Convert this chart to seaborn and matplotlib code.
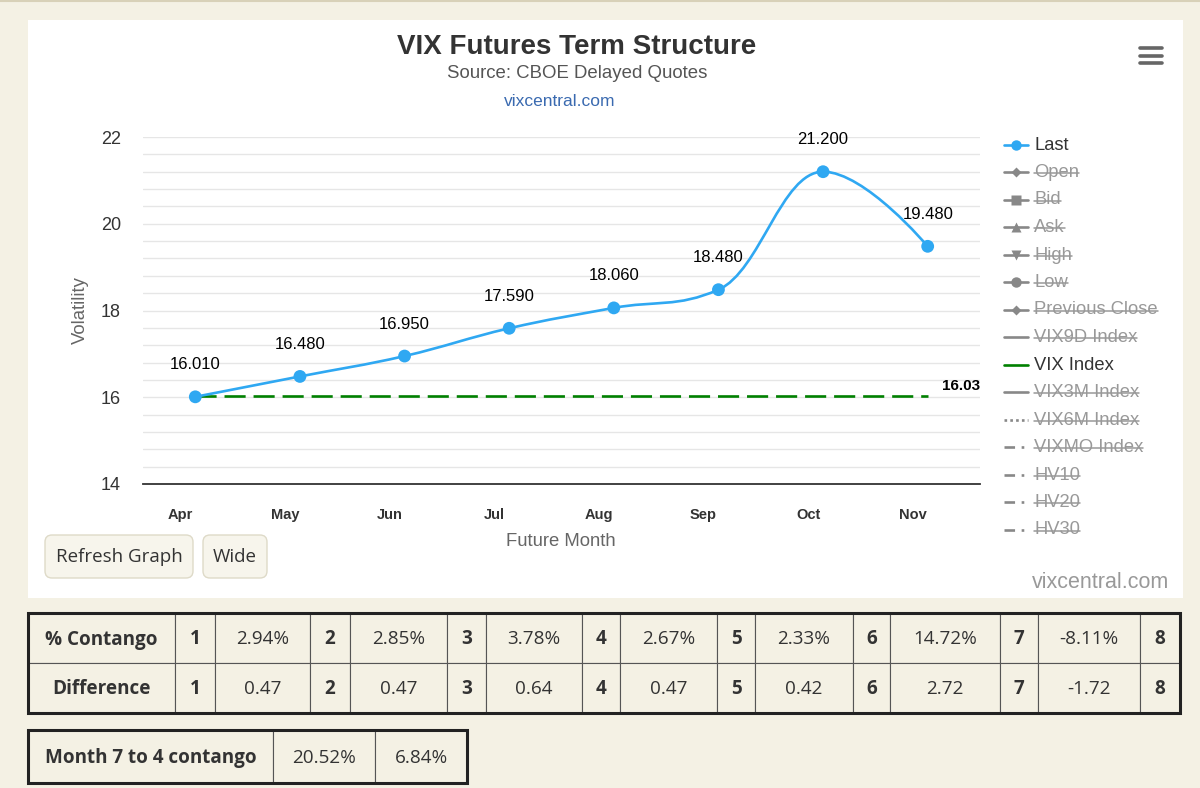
import numpy as np
import matplotlib
matplotlib.use("Agg")
import matplotlib.pyplot as plt
import seaborn as sns
import pandas as pd
from matplotlib.path import Path
from matplotlib.patches import PathPatch, Rectangle, FancyBboxPatch
from matplotlib.lines import Line2D
from matplotlib.transforms import Affine2D, ScaledTranslation

# ---------------- data ----------------
months = ['Apr', 'May', 'Jun', 'Jul', 'Aug', 'Sep', 'Oct', 'Nov']
last_prices = [16.010, 16.480, 16.950, 17.590, 18.060, 18.480, 21.200, 19.480]
vix_index = 16.03
y_ticks = [14, 16, 18, 20, 22]

legend_labels = ['Last', 'Open', 'Bid', 'Ask', 'High', 'Low', 'Previous Close',
                 'VIX9D Index', 'VIX Index', 'VIX3M Index', 'VIX6M Index',
                 'VIXMO Index', 'HV10', 'HV20', 'HV30']
legend_active = ['Last', 'VIX Index']

contango_months = ['1', '2', '3', '4', '5', '6', '7', '8']
contango_pct = ['2.94%', '2.85%', '3.78%', '2.67%', '2.33%', '14.72%', '-8.11%']
differences = ['0.47', '0.47', '0.64', '0.47', '0.42', '2.72', '-1.72']
month7to4 = ['20.52%', '6.84%']

# ---------------- setup ----------------
W, H = 1200, 788
sns.set_theme(style='white')
plt.rcParams['font.family'] = ['Liberation Sans', 'DejaVu Sans']

BG = '#f4f1e4'
BLUE = '#2fa8f2'
GREEN = '#008000'
fig = plt.figure(figsize=(W / 100, H / 100), dpi=100)
fig.patch.set_facecolor(BG)
PX = Affine2D().scale(1 / W, -1 / H).translate(0, 1) + fig.transFigure

# page top border
fig.add_artist(Line2D([0, W], [1, 1], transform=PX, color='#d8d1b8', lw=1.5, zorder=-6))
# white chart panel
fig.add_artist(Rectangle((28, 20), 1155, 578, transform=PX, facecolor='white',
                         edgecolor='none', zorder=-5))

# ---------------- axes ----------------
ax_left, ax_right, ax_top, ax_bottom = 143, 980, 137, 484
ax = fig.add_axes([ax_left / W, 1 - ax_bottom / H, (ax_right - ax_left) / W,
                   (ax_bottom - ax_top) / H])
ax.set_facecolor('white')
x_idx = np.arange(len(months))
ax.set_xlim(-0.5, len(months) - 0.5)
ax.set_ylim(min(y_ticks), max(y_ticks))
ax.set_yticks(y_ticks)
ax.set_yticks(np.arange(14, 22.01, 0.4), minor=True)
ax.grid(True, which='both', axis='y', color='#e6e6e6', lw=1.0)
ax.grid(False, axis='x')
for s in ['top', 'right', 'left']:
    ax.spines[s].set_visible(False)
ax.spines['bottom'].set_color('#333333')
ax.spines['bottom'].set_linewidth(1.3)
ax.set_xticks(x_idx)
ax.set_xticklabels(months, fontweight='bold', fontsize=10.5, color='#333333')
ax.tick_params(axis='x', length=0, pad=17)
ax.tick_params(axis='y', which='both', length=0, pad=16, labelsize=13, labelcolor='#333333')
for lab in ax.get_xticklabels():
    lab.set_transform(lab.get_transform() + ScaledTranslation(-15 / 100, 0, fig.dpi_scale_trans))
ax.set_xlabel('')
ax.set_ylabel('')


# Highcharts-style spline through the points
def hc_spline(xs, ys, smoothing=1.5):
    n = len(xs)
    verts = [(xs[0], ys[0])]
    codes = [Path.MOVETO]
    rc = [None] * n
    d = smoothing + 1
    for i in range(1, n):
        x, y = xs[i], ys[i]
        lc = (x, y)
        if i < n - 1:
            lx, ly = xs[i - 1], ys[i - 1]
            nx, ny = xs[i + 1], ys[i + 1]
            lcx = (smoothing * x + lx) / d
            lcy = (smoothing * y + ly) / d
            rcx = (smoothing * x + nx) / d
            rcy = (smoothing * y + ny) / d
            corr = (rcy - lcy) * (rcx - x) / (rcx - lcx) + y - rcy
            lcy += corr
            rcy += corr
            if lcy > ly and lcy > y:
                lcy = max(ly, y); rcy = 2 * y - lcy
            elif lcy < ly and lcy < y:
                lcy = min(ly, y); rcy = 2 * y - lcy
            if rcy > ny and rcy > y:
                rcy = max(ny, y); lcy = 2 * y - rcy
            elif rcy < ny and rcy < y:
                rcy = min(ny, y); lcy = 2 * y - rcy
            lc = (lcx, lcy)
            rc[i] = (rcx, rcy)
        prev = rc[i - 1] if rc[i - 1] is not None else (xs[i - 1], ys[i - 1])
        verts += [prev, lc, (x, y)]
        codes += [Path.CURVE4] * 3
    return Path(verts, codes)


ax.add_patch(PathPatch(hc_spline(list(x_idx.astype(float)), last_prices),
                       facecolor='none', edgecolor=BLUE, lw=1.9, zorder=3,
                       capstyle='round', joinstyle='round'))

# VIX index dashed line
ax.plot([x_idx[0], x_idx[-1]], [vix_index, vix_index], color=GREEN, lw=1.9,
        dashes=(8, 3), zorder=2)
ax.annotate(f'{vix_index:.2f}', (x_idx[-1], vix_index), xytext=(24, 7),
            textcoords='offset points', ha='center', va='center',
            fontsize=11, fontweight='bold', color='#000000')

df = pd.DataFrame({'x': x_idx, 'last': last_prices})
sns.scatterplot(data=df, x='x', y='last', ax=ax, s=85, color=BLUE,
                edgecolor='none', zorder=4, legend=False)
ax.set_xlabel('')
ax.set_ylabel('')
for xi, v in zip(x_idx, last_prices):
    ax.annotate(f'{v:.3f}', (xi, v), xytext=(0, 23), textcoords='offset points',
                ha='center', va='center', fontsize=12, color='#000000')

# ---------------- titles ----------------
fig.text(577 / W, 1 - 47 / H, 'VIX Futures Term Structure', ha='center', va='center',
         fontsize=20, fontweight='bold', color='#333333')
fig.text(577 / W, 1 - 73 / H, 'Source: CBOE Delayed Quotes', ha='center', va='center',
         fontsize=13.4, color='#555555')
fig.text(560 / W, 1 - 101 / H, 'vixcentral.com', ha='center', va='center',
         fontsize=12.5, color='#3a6ab0')
fig.text(80 / W, 1 - 310 / H, 'Volatility', rotation=90, ha='center', va='center',
         fontsize=13.3, color='#666666')
fig.text(561 / W, 1 - 541 / H, 'Future Month', ha='center', va='center',
         fontsize=13.3, color='#666666')
fig.text(1169 / W, 1 - 583 / H, 'vixcentral.com', ha='right', va='center',
         fontsize=15.5, color='#999999')

# hamburger menu
for yy in [48, 56, 63]:
    fig.add_artist(Line2D([1140, 1162], [yy, yy], transform=PX, color='#666666',
                          lw=2.6, solid_capstyle='round'))

# ---------------- legend ----------------
GRAY = '#888888'
DASHDOT = (0, (4, 2.5, 1, 2.5))
leg_styles = {
    'Last': dict(marker='o', ls='-', ms=7.5),
    'Open': dict(marker='D', ls='-', ms=5.5),
    'Bid': dict(marker='s', ls='-', ms=7),
    'Ask': dict(marker='^', ls='-', ms=7.5),
    'High': dict(marker='v', ls='-', ms=7.5),
    'Low': dict(marker='o', ls='-', ms=7.5),
    'Previous Close': dict(marker='D', ls='-', ms=5.5),
    'VIX9D Index': dict(marker=None, ls='-'),
    'VIX Index': dict(marker=None, ls='-'),
    'VIX3M Index': dict(marker=None, ls='-'),
    'VIX6M Index': dict(marker=None, ls=(0, (1, 1.2))),
    'VIXMO Index': dict(marker=None, ls=DASHDOT),
    'HV10': dict(marker=None, ls=DASHDOT),
    'HV20': dict(marker=None, ls=DASHDOT),
    'HV30': dict(marker=None, ls=DASHDOT),
}
leg_texts = []
for k, lab in enumerate(legend_labels):
    yy = 145 + k * 27.5
    active = lab in legend_active
    if lab == 'Last':
        col = BLUE
    elif lab == 'VIX Index':
        col = GREEN
    else:
        col = GRAY
    st = leg_styles[lab]
    fig.add_artist(Line2D([1004, 1028], [yy, yy], transform=PX, color=col, lw=1.9,
                          ls=st['ls']))
    if st['marker']:
        fig.add_artist(Line2D([1016], [yy], transform=PX, color=col, marker=st['marker'],
                              ms=st.get('ms', 6), ls='none', mec='none'))
    t = fig.text(1034 / W, 1 - yy / H, lab, ha='left', va='center', fontsize=13.2,
                 color='#333333' if active else '#999999')
    if not active:
        leg_texts.append(t)

# ---------------- buttons ----------------
BTN_FONT = ['Open Sans', 'DejaVu Sans']
for (bx, bw, label) in [(45, 148, 'Refresh Graph'), (203, 64, 'Wide')]:
    fig.add_artist(FancyBboxPatch((bx, 535), bw, 43, transform=PX,
                                  boxstyle='round,pad=0,rounding_size=7',
                                  facecolor='#f7f5ec', edgecolor='#dedac8', lw=1.0))
    fig.text((bx + bw / 2) / W, 1 - 557 / H, label, ha='center', va='center',
             fontsize=13.5, color='#333333', family=BTN_FONT)

# ---------------- tables ----------------
TFONT = ['Open Sans', 'DejaVu Sans']
TXT = '#333333'


def draw_table(xs, y0, y1, rows):
    nrow = len(rows)
    rh = (y1 - y0) / nrow
    for r, row in enumerate(rows):
        for c, (txt, bold) in enumerate(row):
            x0, x1 = xs[c], xs[c + 1]
            yy0 = y0 + r * rh
            fig.add_artist(Rectangle((x0, yy0), x1 - x0, rh, transform=PX,
                                     facecolor=BG, edgecolor='#555555', lw=0.8, zorder=1))
            fig.text((x0 + x1) / 2 / W, 1 - (yy0 + rh / 2 + 1.5) / H, txt, ha='center',
                     va='center', fontsize=13.6, color=TXT, family=TFONT,
                     fontweight='bold' if bold else 'normal', zorder=3)
    fig.add_artist(Rectangle((xs[0], y0), xs[-1] - xs[0], y1 - y0, transform=PX,
                             facecolor='none', edgecolor='#222222', lw=2.2, zorder=2))


t1_cols = [28, 175, 215, 310, 350, 447, 486, 582, 620, 717, 755, 853, 890, 1000, 1038,
           1140, 1180]


def build_row(title, vals):
    row = [(title, True)]
    for i, m in enumerate(contango_months):
        row.append((m, True))
        if i < len(vals):
            row.append((vals[i], False))
    return row


draw_table(t1_cols, 613, 713, [build_row('% Contango', contango_pct),
                               build_row('Difference', differences)])
draw_table([28, 273, 375, 467], 730, 783,
           [[('Month 7 to 4 contango', True), (month7to4[0], False), (month7to4[1], False)]])

# ---------------- strikethrough on hidden legend items ----------------
fig.canvas.draw()
renderer = fig.canvas.get_renderer()
for t in leg_texts:
    bb = t.get_window_extent(renderer).transformed(fig.transFigure.inverted())
    ym = bb.y0 + 0.47 * bb.height
    fig.add_artist(Line2D([bb.x0, bb.x1], [ym, ym], transform=fig.transFigure,
                          color='#999999', lw=1.1))

fig.savefig('out.png', dpi=100, facecolor=BG)
